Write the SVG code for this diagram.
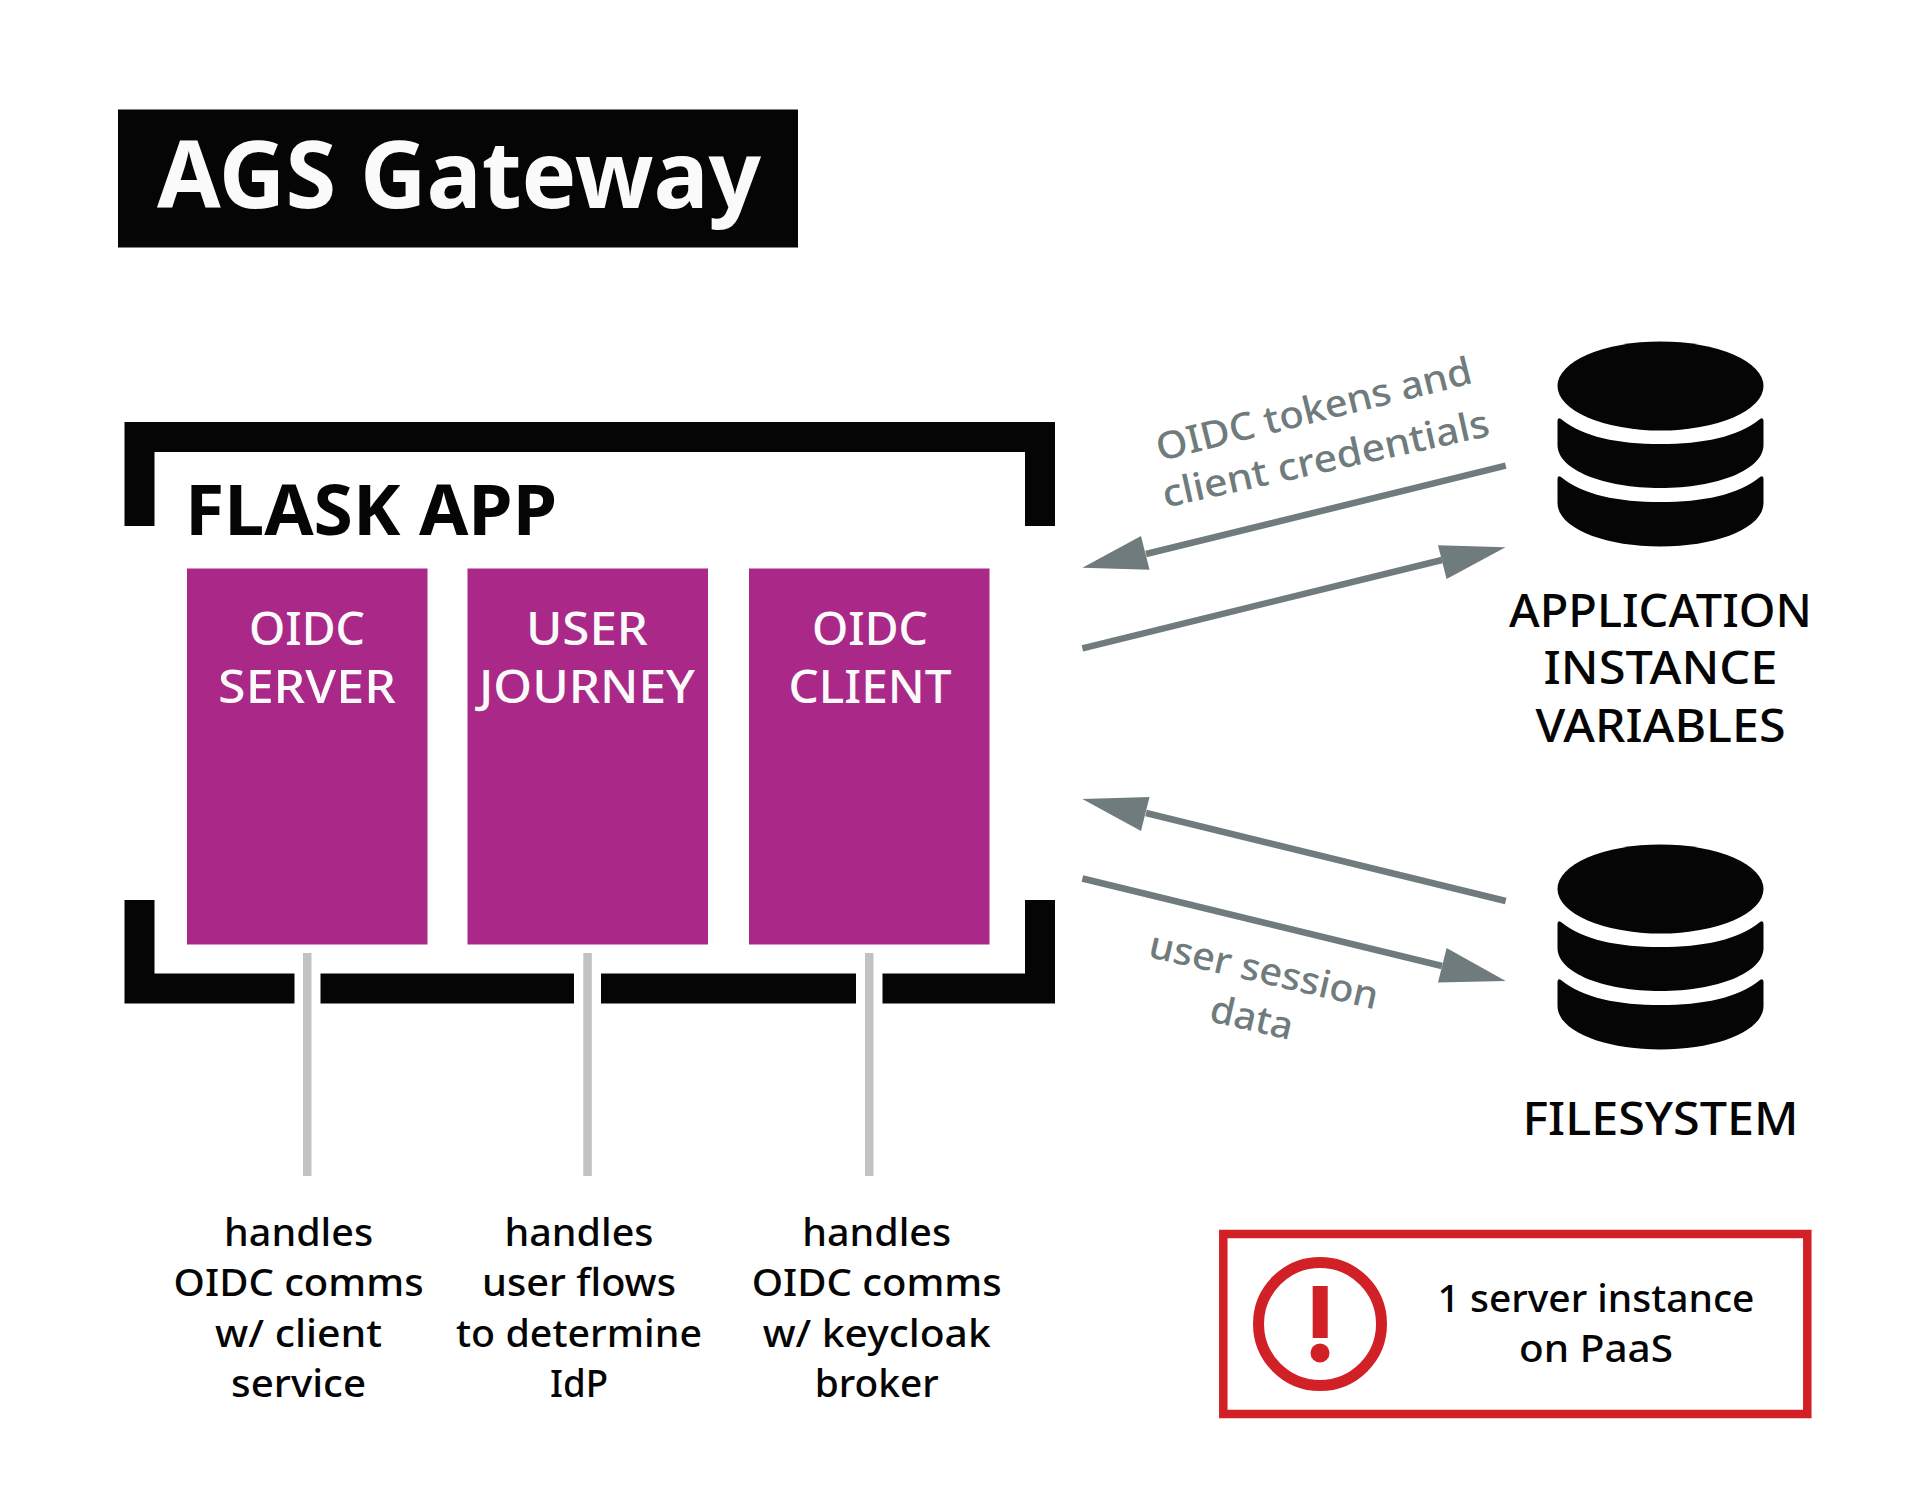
<svg xmlns="http://www.w3.org/2000/svg" width="1926" height="1512" viewBox="0 0 1926 1512">
<style>
text{font-family:"Noto Sans","Liberation Sans",sans-serif;text-anchor:middle}
.b{fill:#050505}
.box{fill:#a92888}
.tw{fill:#fafafa;font-size:46px;font-weight:500}
.lab{fill:#050505;font-size:46px;font-weight:500}
.d{fill:#050505;font-size:38px;font-weight:500}
.g{fill:#6f7b7c;font-size:38px;font-weight:500}
.ln{stroke:#6f7b7c;stroke-width:6.5;fill:none}
.hd{fill:#6f7b7c}
.st{fill:#c1c2c4}
</style>
<defs>
<g id="db" class="b">
<ellipse cx="1660.500" cy="386" rx="103" ry="44.500"/>
<path d="M1557.500 421Q1557.500 417 1561 419C1583 437 1618 444 1660.500 444C1703 444 1738 437 1760 419Q1763.500 417 1763.500 421V445C1763.500 470 1717 488 1660.500 488C1604 488 1557.500 470 1557.500 445Z"/>
<path d="M1557.500 479Q1557.500 475 1561 477C1583 495 1618 502 1660.500 502C1703 502 1738 495 1760 477Q1763.500 475 1763.500 479V503C1763.500 528 1717 546.500 1660.500 546.500C1604 546.500 1557.500 528 1557.500 503Z"/>
</g>
</defs>
<rect width="1926" height="1512" fill="#fff"/>
<g id="title">
<rect class="b" x="118" y="109.500" width="680" height="138"/>
<text x="459" y="208" font-size="93" font-weight="700" fill="#fafafa" textLength="604" lengthAdjust="spacingAndGlyphs">AGS Gateway</text>
</g>
<g id="flask-app">
<path class="b" d="M124.500 422H1055V526H1025V452H154.500V526H124.500Z"/>
<path class="b" d="M124.500 900H154.500V973.500H294.500V1003.500H124.500Z"/>
<rect class="b" x="320.500" y="973.500" width="253.500" height="30"/>
<rect class="b" x="601" y="973.500" width="255" height="30"/>
<path class="b" d="M882.500 973.500H1025V900H1055V1003.500H882.500Z"/>
<text x="371" y="535" font-size="70" font-weight="700" fill="#050505" textLength="372" lengthAdjust="spacingAndGlyphs">FLASK APP</text>
</g>
<g id="oidc-server">
<rect class="box" x="187" y="568.500" width="240.500" height="376"/>
<text class="tw" x="307" y="645" textLength="116" lengthAdjust="spacingAndGlyphs">OIDC</text>
<text class="tw" x="307" y="702.500" textLength="178" lengthAdjust="spacingAndGlyphs">SERVER</text>
</g>
<g id="user-journey">
<rect class="box" x="467.500" y="568.500" width="240.500" height="376"/>
<text class="tw" x="587" y="645" textLength="122" lengthAdjust="spacingAndGlyphs">USER</text>
<text class="tw" x="587" y="702.500" textLength="216" lengthAdjust="spacingAndGlyphs">JOURNEY</text>
</g>
<g id="oidc-client">
<rect class="box" x="749" y="568.500" width="240.500" height="376"/>
<text class="tw" x="870" y="645" textLength="116" lengthAdjust="spacingAndGlyphs">OIDC</text>
<text class="tw" x="870" y="702.500" textLength="163" lengthAdjust="spacingAndGlyphs">CLIENT</text>
</g>
<g id="connectors">
<rect class="st" x="303" y="953" width="8.500" height="223"/>
<rect class="st" x="583.300" y="953" width="8.500" height="223"/>
<rect class="st" x="865" y="953" width="8.500" height="223"/>
<path class="ln" d="M1505.700 465.700L1146 554"/>
<path class="hd" d="M1082.400 567.700L1141 536L1149.500 569.700Z"/>
<path class="ln" d="M1082.400 648.300L1442 560"/>
<path class="hd" d="M1505.500 547.300L1438 545.300L1446.600 579Z"/>
<path class="ln" d="M1505.700 901L1146 813"/>
<path class="hd" d="M1082.400 799L1149.500 797L1141 831Z"/>
<path class="ln" d="M1082.400 878.500L1442 966"/>
<path class="hd" d="M1505.700 981L1446.600 948L1438 982.500Z"/>
</g>
<g id="edge-labels">
<g transform="translate(1317 422) rotate(-14)"><text class="g" textLength="324" lengthAdjust="spacingAndGlyphs">OIDC tokens and</text></g>
<g transform="translate(1328.500 471.500) rotate(-12.500)"><text class="g" textLength="334" lengthAdjust="spacingAndGlyphs">client credentials</text></g>
<g transform="translate(1261 983) rotate(13)"><text class="g" textLength="234" lengthAdjust="spacingAndGlyphs">user session</text></g>
<g transform="translate(1249 1030.500) rotate(13)"><text class="g" textLength="84" lengthAdjust="spacingAndGlyphs">data</text></g>
</g>
<g id="app-vars">
<use href="#db"/>
<text class="lab" x="1660.500" y="626.500" textLength="303" lengthAdjust="spacingAndGlyphs">APPLICATION</text>
<text class="lab" x="1660.500" y="683.500" textLength="234" lengthAdjust="spacingAndGlyphs">INSTANCE</text>
<text class="lab" x="1660.500" y="741.500" textLength="250" lengthAdjust="spacingAndGlyphs">VARIABLES</text>
</g>
<g id="filesystem">
<use href="#db" y="503"/>
<text class="lab" x="1660.500" y="1134.500" textLength="276" lengthAdjust="spacingAndGlyphs">FILESYSTEM</text>
</g>
<g id="desc-server">
<text class="d" x="298.600" y="1245.500" textLength="149" lengthAdjust="spacingAndGlyphs">handles</text>
<text class="d" x="298.600" y="1296" textLength="250" lengthAdjust="spacingAndGlyphs">OIDC comms</text>
<text class="d" x="298.600" y="1346.500" textLength="167" lengthAdjust="spacingAndGlyphs">w/ client</text>
<text class="d" x="298.600" y="1397" textLength="135" lengthAdjust="spacingAndGlyphs">service</text>
</g>
<g id="desc-journey">
<text class="d" x="579" y="1245.500" textLength="149" lengthAdjust="spacingAndGlyphs">handles</text>
<text class="d" x="579" y="1296" textLength="194" lengthAdjust="spacingAndGlyphs">user flows</text>
<text class="d" x="579" y="1346.500" textLength="246" lengthAdjust="spacingAndGlyphs">to determine</text>
<text class="d" x="579" y="1397" textLength="58" lengthAdjust="spacingAndGlyphs">IdP</text>
</g>
<g id="desc-client">
<text class="d" x="876.700" y="1245.500" textLength="149" lengthAdjust="spacingAndGlyphs">handles</text>
<text class="d" x="876.700" y="1296" textLength="250" lengthAdjust="spacingAndGlyphs">OIDC comms</text>
<text class="d" x="876.700" y="1346.500" textLength="228" lengthAdjust="spacingAndGlyphs">w/ keycloak</text>
<text class="d" x="876.700" y="1397" textLength="124" lengthAdjust="spacingAndGlyphs">broker</text>
</g>
<g id="note">
<rect x="1223.300" y="1234" width="584" height="180" fill="none" stroke="#d12127" stroke-width="8.500"/>
<circle cx="1320" cy="1324" r="61.500" fill="none" stroke="#d12127" stroke-width="11"/>
<rect x="1312.700" y="1286" width="15" height="52" fill="#d12127"/>
<circle cx="1320" cy="1353" r="9.500" fill="#d12127"/>
<text class="d" x="1596" y="1311.500" textLength="317" lengthAdjust="spacingAndGlyphs">1 server instance</text>
<text class="d" x="1596" y="1361.500" textLength="154" lengthAdjust="spacingAndGlyphs">on PaaS</text>
</g>
</svg>
